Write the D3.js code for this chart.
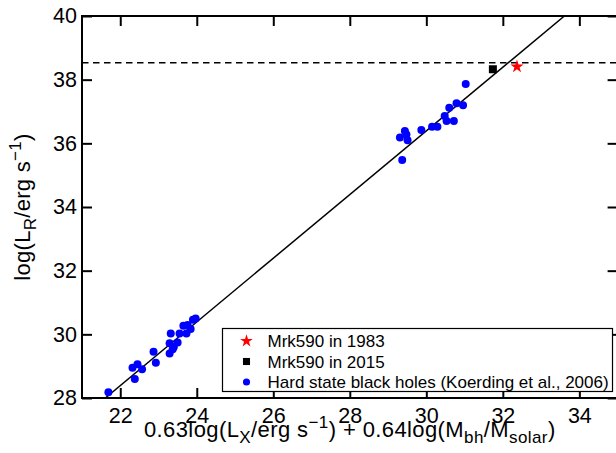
<!DOCTYPE html>
<html>
<head>
<meta charset="utf-8">
<script src="https://cdn.jsdelivr.net/npm/d3@7"></script>
<style>
  body { margin: 0; background: #fff; }
  svg { display: block; font-family: "Liberation Sans", Arial, sans-serif; }
</style>
</head>
<body>
<svg id="chart" width="616" height="453"></svg>
<script>
// hard state black holes (Koerding et al. 2006)
var bhX = [23.97, 23.90, 23.76, 23.65, 23.84, 23.73, 23.55, 23.32, 23.50, 23.29, 23.37, 23.29, 23.40,
           22.87, 22.93, 22.45, 22.32, 22.57, 22.38, 21.69,
           31.03, 30.79, 30.96, 30.60, 30.48, 30.53, 30.72, 30.29, 30.15, 29.87, 29.44, 29.48, 29.51, 29.31, 29.37];
var bhY = [30.50, 30.46, 30.29, 30.27, 30.17, 30.03, 30.03, 30.03, 29.74, 29.72, 29.53, 29.40, 29.60,
           29.45, 29.11, 29.06, 28.95, 28.90, 28.60, 28.18,
           37.86, 37.26, 37.20, 37.12, 36.86, 36.70, 36.70, 36.52, 36.52, 36.42, 36.39, 36.28, 36.10, 36.18, 35.48];

// Mrk590
var mrk1983 = [32.37, 38.41];
var mrk2015 = [31.74, 38.33];

// fundamental plane fit line (end points) and dashed level
var fitX = [21.61, 33.61];
var fitY = [28, 40];
var dashLevel = 38.53;

var xTicks = [22, 24, 26, 28, 30, 32, 34];
var yTicks = [28, 30, 32, 34, 36, 38, 40];
var legendLabels = ["Mrk590 in 1983", "Mrk590 in 2015", "Hard state black holes (Koerding et al., 2006)"];

var margin = {top: 16, left: 82};
var width = 535.6;
var height = 382;

var svg = d3.select("#chart");
var g = svg.append("g").attr("transform", "translate(" + margin.left + "," + margin.top + ")");

var x = d3.scaleLinear().domain([21, 35]).range([0, width]);
var y = d3.scaleLinear().domain([28, 40]).range([height, 0]);

g.append("clipPath").attr("id", "plotclip")
  .append("rect").attr("width", width).attr("height", height);

// axes, ticks inward
var axBottom = g.append("g")
  .attr("transform", "translate(0," + height + ")")
  .call(d3.axisBottom(x).tickValues(xTicks).tickSize(-10).tickSizeOuter(0).tickPadding(10));
var axTop = g.append("g")
  .call(d3.axisTop(x).tickValues(xTicks).tickSize(-10).tickSizeOuter(0).tickFormat(""));
var axLeft = g.append("g")
  .call(d3.axisLeft(y).tickValues(yTicks).tickSize(-10).tickSizeOuter(0).tickPadding(5));
var axRight = g.append("g")
  .attr("transform", "translate(" + width + ",0)")
  .call(d3.axisRight(y).tickValues(yTicks).tickSize(-10).tickSizeOuter(0).tickFormat(""));

[axBottom, axTop, axLeft, axRight].forEach(function(a){
  a.select(".domain").remove();
  a.selectAll(".tick line").attr("stroke", "#000").attr("stroke-width", 2);
  a.selectAll("text").attr("font-size", "21.5px").attr("fill", "#000")
    .attr("font-family", "'Liberation Sans', Arial, sans-serif");
});

g.append("rect")
  .attr("width", width).attr("height", height)
  .attr("fill", "none").attr("stroke", "#000").attr("stroke-width", 2);

var plot = g.append("g").attr("clip-path", "url(#plotclip)");

plot.append("line")
  .attr("x1", 0).attr("x2", width)
  .attr("y1", y(dashLevel)).attr("y2", y(dashLevel))
  .attr("stroke", "#000").attr("stroke-width", 1.4)
  .attr("stroke-dasharray", "6.5,4.5");

plot.append("line")
  .attr("x1", x(fitX[0])).attr("y1", y(fitY[0]))
  .attr("x2", x(fitX[1])).attr("y2", y(fitY[1]))
  .attr("stroke", "#000").attr("stroke-width", 1.5);

plot.selectAll(".bh")
  .data(d3.range(bhX.length))
  .enter().append("circle")
    .attr("class", "bh")
    .attr("cx", function(i){ return x(bhX[i]); })
    .attr("cy", function(i){ return y(bhY[i]); })
    .attr("r", 4)
    .attr("fill", "#0000ff");

plot.append("path")
  .attr("d", d3.symbol().type(d3.symbolSquare).size(64)())
  .attr("transform", "translate(" + x(mrk2015[0]) + "," + y(mrk2015[1]) + ")")
  .attr("fill", "#000");

plot.append("path")
  .attr("d", d3.symbol().type(d3.symbolStar).size(55)())
  .attr("transform", "translate(" + x(mrk1983[0]) + "," + y(mrk1983[1]) + ")")
  .attr("fill", "#ff0000");

// legend
var leg = svg.append("g").attr("transform", "translate(222.5,328.5)");
leg.append("rect")
  .attr("width", 390).attr("height", 63)
  .attr("fill", "#fff").attr("stroke", "#000").attr("stroke-width", 1.2);

var symbols = [
  d3.symbol().type(d3.symbolStar).size(50)(),
  d3.symbol().type(d3.symbolSquare).size(50)(),
  d3.symbol().type(d3.symbolCircle).size(40)()
];
var colors = ["#ff0000", "#000", "#0000ff"];

legendLabels.forEach(function(label, i){
  var ly = 12.5 + i * 20.5;
  leg.append("path")
    .attr("d", symbols[i])
    .attr("transform", "translate(24," + ly + ")")
    .attr("fill", colors[i]);
  leg.append("text")
    .attr("x", 45).attr("y", ly).attr("dy", "0.36em")
    .attr("font-size", "17px")
    .text(label);
});

// axis titles
var xt = svg.append("text")
  .attr("x", margin.left + width / 2).attr("y", 437)
  .attr("text-anchor", "middle").attr("font-size", "22px")
  .attr("letter-spacing", "0.4px");
xt.append("tspan").text("0.63log(L");
xt.append("tspan").attr("font-size", "17px").attr("dy", 6).text("X");
xt.append("tspan").attr("dy", -6).text("/erg s");
xt.append("tspan").attr("font-size", "17px").attr("dy", -9).text("\u22121");
xt.append("tspan").attr("dy", 9).text(") + 0.64log(M");
xt.append("tspan").attr("font-size", "17px").attr("dy", 6).text("bh");
xt.append("tspan").attr("dy", -6).text("/M");
xt.append("tspan").attr("font-size", "17px").attr("dy", 6).text("solar");
xt.append("tspan").attr("dy", -6).text(")");

var yt = svg.append("text")
  .attr("transform", "translate(30," + (margin.top + height / 2) + ") rotate(-90)")
  .attr("text-anchor", "middle").attr("font-size", "22px")
  .attr("letter-spacing", "0.3px");
yt.append("tspan").text("log(L");
yt.append("tspan").attr("font-size", "17px").attr("dy", 6).text("R");
yt.append("tspan").attr("dy", -6).text("/erg s");
yt.append("tspan").attr("font-size", "17px").attr("dy", -9).text("\u22121");
yt.append("tspan").attr("dy", 9).text(")");
</script>
</body>
</html>
